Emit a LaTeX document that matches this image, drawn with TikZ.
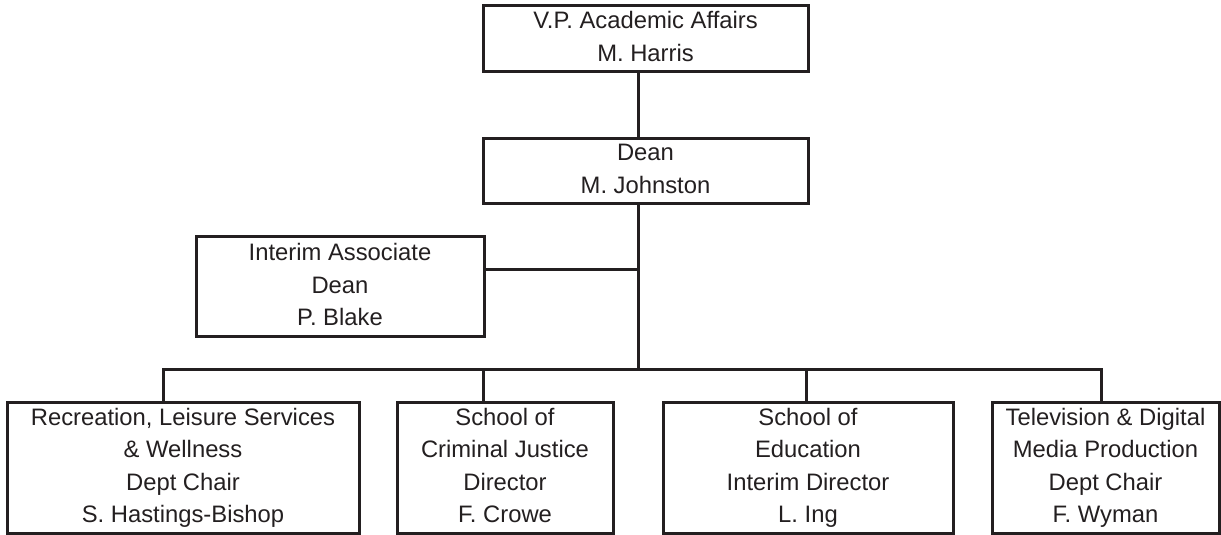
\documentclass[tikz,border=0pt]{standalone}
\usepackage{fontspec}
\setmainfont{Liberation Sans}
\definecolor{ink}{RGB}{35,31,32}
\tikzset{
  unit/.style={draw=ink,line width=1.5pt,text=ink,align=center,inner sep=0pt,
    font=\fontsize{11.9}{16.2}\selectfont,
    execute at begin node=\rule{0pt}{14pt},execute at end node=\rule[-2.5pt]{0pt}{2.5pt}},
  link/.style={draw=ink,line width=1.5pt}
}
\begin{document}
\begin{tikzpicture}[x=0.5pt,y=0.5pt]
\useasboundingbox (0,0) rectangle (1221,535);

\node[unit,minimum width=162.5pt,minimum height=33pt] (vp) at (645.5,496) {V.P. Academic Affairs\\M. Harris};
\node[unit,minimum width=162.5pt,minimum height=32.5pt] (dean) at (645.5,363.5) {Dean\\M. Johnston};
\node[unit,minimum width=144pt,minimum height=50pt] (interim) at (340,248) {Interim Associate\\Dean\\P. Blake};

\node[unit,minimum width=176pt,minimum height=65.5pt] (rec) at (183,67) {Recreation, Leisure Services\\\& Wellness\\Dept Chair\\S. Hastings-Bishop};
\node[unit,minimum width=108pt,minimum height=65.5pt] (cj) at (505,67) {School of\\Criminal Justice\\Director\\F. Crowe};
\node[unit,minimum width=145pt,minimum height=65.5pt] (edu) at (808,67) {School of\\Education\\Interim Director\\L. Ing};
\node[unit,minimum width=113.5pt,minimum height=65.5pt] (tv) at (1105.5,67) {Television \& Digital\\Media Production\\Dept Chair\\F. Wyman};

\coordinate (bus) at (638,165.7);
\coordinate (joint) at (638,265);
\foreach \n/\x in {rec/163,cj/483,edu/806,tv/1101}
  \coordinate (d-\n) at (\x,165.7);

\draw[link] (vp.south -| bus) -- (dean.north -| bus);
\draw[link] (dean.south -| bus) -- (bus);
\draw[link] (interim.east |- joint) -- (joint);
\draw[link] (d-rec |- rec.north) -- (d-rec) -- (d-tv) -- (d-tv |- tv.north);
\draw[link] (d-cj) -- (d-cj |- cj.north);
\draw[link] (d-edu) -- (d-edu |- edu.north);

\end{tikzpicture}
\end{document}
